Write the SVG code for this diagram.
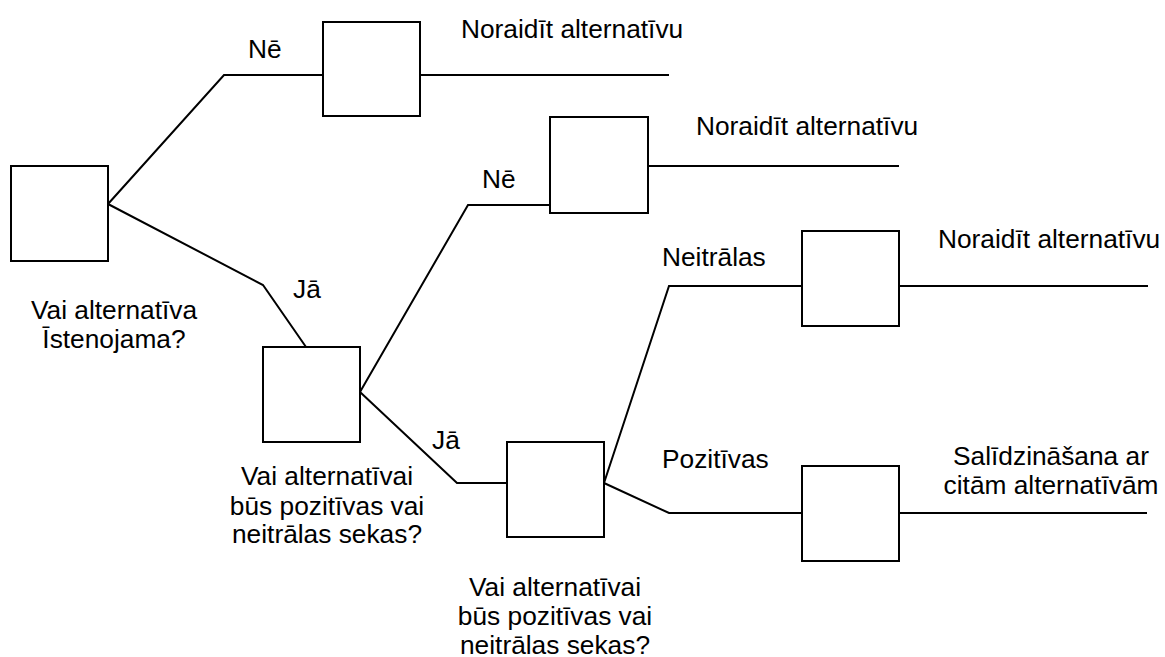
<svg xmlns="http://www.w3.org/2000/svg" width="1165" height="657" viewBox="0 0 1165 657">
  <style>
    .box { fill: #ffffff; stroke: #000000; stroke-width: 2; }
    .edge { fill: none; stroke: #000000; stroke-width: 2; stroke-linejoin: miter; }
    text { font-family: "Liberation Sans", Arial, sans-serif; font-size: 26.3px; fill: #000000; }
    .mid { text-anchor: middle; }
  </style>
  <rect width="1165" height="657" fill="#ffffff"/>

  <!-- branches of the decision tree -->
  <g id="connectors">
    <polyline class="edge" points="108,204 224,75 323,75"/>
    <polyline class="edge" points="108,204 263,285 306,347"/>
    <line class="edge" x1="420" y1="75" x2="669" y2="75"/>
    <polyline class="edge" points="360,392 468,205 550,205"/>
    <polyline class="edge" points="360,392 457,483 507,483"/>
    <line class="edge" x1="648" y1="166" x2="899" y2="166"/>
    <polyline class="edge" points="604,483 669,286 802,286"/>
    <polyline class="edge" points="604,483 669,513 802,513"/>
    <line class="edge" x1="899" y1="286" x2="1148" y2="286"/>
    <line class="edge" x1="899" y1="513" x2="1147" y2="513"/>
  </g>

  <!-- branch labels -->
  <g id="labels">
    <text x="248" y="58">Nē</text>
    <text x="293" y="298">Jā</text>
    <text x="482" y="188">Nē</text>
    <text x="432" y="449">Jā</text>
    <text x="662" y="266">Neitrālas</text>
    <text x="662" y="468">Pozitīvas</text>
  </g>

  <g id="root">
    <rect class="box" x="11" y="166" width="97" height="95"/>
    <text class="mid" x="114" y="318.5">Vai alternatīva</text>
    <text class="mid" x="114" y="348">Īstenojama?</text>
  </g>

  <g id="reject1">
    <rect class="box" x="323" y="22" width="97" height="94"/>
    <text x="461" y="38">Noraidīt alternatīvu</text>
  </g>

  <g id="effects1">
    <rect class="box" x="263" y="347" width="97" height="95"/>
    <text class="mid" x="327" y="485">Vai alternatīvai</text>
    <text class="mid" x="327" y="514.5">būs pozitīvas vai</text>
    <text class="mid" x="327" y="543">neitrālas sekas?</text>
  </g>

  <g id="reject2">
    <rect class="box" x="550" y="117" width="98" height="96"/>
    <text x="696" y="135">Noraidīt alternatīvu</text>
  </g>

  <g id="effects2">
    <rect class="box" x="507" y="442" width="97" height="95"/>
    <text class="mid" x="555" y="596">Vai alternatīvai</text>
    <text class="mid" x="555" y="625">būs pozitīvas vai</text>
    <text class="mid" x="555" y="654">neitrālas sekas?</text>
  </g>

  <g id="reject3">
    <rect class="box" x="802" y="231" width="97" height="95"/>
    <text x="938" y="248">Noraidīt alternatīvu</text>
  </g>

  <g id="compare">
    <rect class="box" x="802" y="466" width="97" height="95"/>
    <text class="mid" x="1051" y="465">Salīdzināšana ar</text>
    <text class="mid" x="1051" y="493.5">citām alternatīvām</text>
  </g>
</svg>
